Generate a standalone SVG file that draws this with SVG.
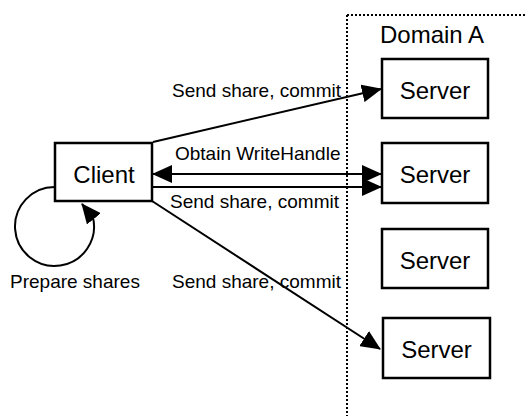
<svg xmlns="http://www.w3.org/2000/svg" width="526" height="416" viewBox="0 0 526 416">
  <style>
    .box { fill: #fff; stroke: #000; stroke-width: 2.5; }
    .name { font-family: "Liberation Sans", Arial, sans-serif; font-size: 24px; fill: #000; }
    .label { font-family: "Liberation Sans", Arial, sans-serif; font-size: 19px; fill: #000; }
    .edge { fill: none; stroke: #000; stroke-width: 2; }
    .domain { fill: none; stroke: #000; stroke-width: 2; stroke-dasharray: 2 2; }
  </style>
  <defs>
    <marker id="arrow" markerUnits="userSpaceOnUse" viewBox="0 0 20 18" markerWidth="20" markerHeight="18" refX="19" refY="9" orient="auto-start-reverse">
      <path d="M0,0 L20,9 L0,18 z" fill="#000"/>
    </marker>
  </defs>

  <rect width="526" height="416" fill="#fff"/>

  <!-- trust domain boundary -->
  <g id="domain-a">
    <path class="domain" d="M347,15 H526 M347,15 V416"/>
    <text class="name" x="380" y="43">Domain A</text>
  </g>

  <!-- connectors -->
  <g id="connectors">
    <path class="edge" d="M153,142 L381,89" marker-end="url(#arrow)"/>
    <path class="edge" d="M153,174 L381,174" marker-start="url(#arrow)" marker-end="url(#arrow)"/>
    <path class="edge" d="M153,187 L381,187" marker-end="url(#arrow)"/>
    <path class="edge" d="M152,201 L380,349" marker-end="url(#arrow)"/>
    <path class="edge" d="M55,187 A39.5,39.5 0 1 0 93,217.6 L82,204" marker-end="url(#arrow)"/>
  </g>

  <!-- connector labels -->
  <g id="labels">
    <text class="label" x="172" y="97">Send share, commit</text>
    <text class="label" x="175" y="160">Obtain WriteHandle</text>
    <text class="label" x="170" y="208">Send share, commit</text>
    <text class="label" x="172" y="288">Send share, commit</text>
    <text class="label" x="10" y="288">Prepare shares</text>
  </g>

  <g id="client">
    <rect class="box" x="55" y="143" width="97" height="58"/>
    <text class="name" x="104" y="183" text-anchor="middle">Client</text>
  </g>

  <g id="server-1">
    <rect class="box" x="382" y="59" width="106" height="59"/>
    <text class="name" x="435" y="99" text-anchor="middle">Server</text>
  </g>

  <g id="server-2">
    <rect class="box" x="382" y="143" width="106" height="60"/>
    <text class="name" x="435" y="183" text-anchor="middle">Server</text>
  </g>

  <g id="server-3">
    <rect class="box" x="382" y="229" width="106" height="59"/>
    <text class="name" x="435" y="269" text-anchor="middle">Server</text>
  </g>

  <g id="server-4">
    <rect class="box" x="383" y="318" width="107" height="60"/>
    <text class="name" x="436.5" y="358" text-anchor="middle">Server</text>
  </g>
</svg>
